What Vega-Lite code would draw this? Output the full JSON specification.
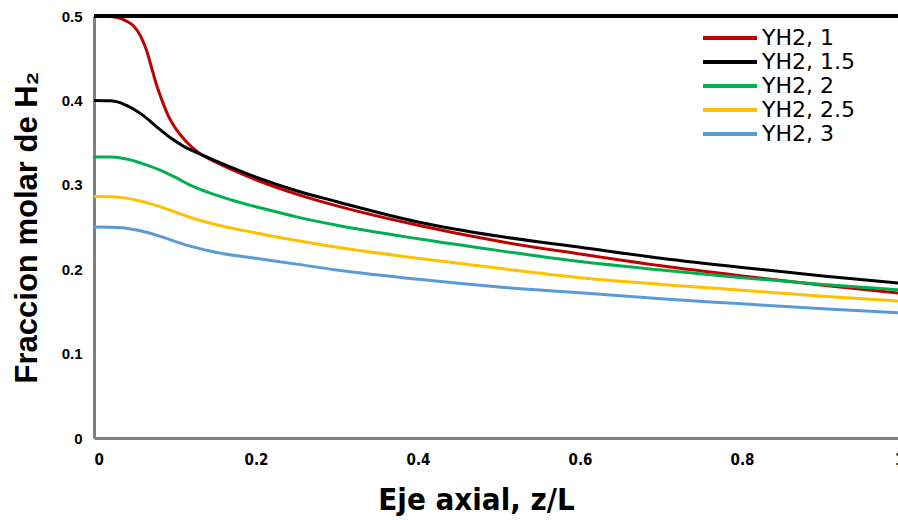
{
  "$schema": "https://vega.github.io/schema/vega-lite/v6.json",
  "autosize": {"type": "none"},
  "padding": {"left": 94, "top": 16, "right": 0, "bottom": 82},
  "width": 810,
  "height": 422,
  "background": "white",
  "config": {"view": {"stroke": null}},
  "datasets": {
    "curves": [
      {"z": 0, "y": 0.5, "s": "YH2, 1"},
      {"z": 0.02, "y": 0.4995, "s": "YH2, 1"},
      {"z": 0.03, "y": 0.498, "s": "YH2, 1"},
      {"z": 0.04, "y": 0.494, "s": "YH2, 1"},
      {"z": 0.048, "y": 0.489, "s": "YH2, 1"},
      {"z": 0.057, "y": 0.477, "s": "YH2, 1"},
      {"z": 0.065, "y": 0.459, "s": "YH2, 1"},
      {"z": 0.071, "y": 0.439, "s": "YH2, 1"},
      {"z": 0.077, "y": 0.419, "s": "YH2, 1"},
      {"z": 0.084, "y": 0.4, "s": "YH2, 1"},
      {"z": 0.092, "y": 0.381, "s": "YH2, 1"},
      {"z": 0.102, "y": 0.365, "s": "YH2, 1"},
      {"z": 0.114, "y": 0.351, "s": "YH2, 1"},
      {"z": 0.13, "y": 0.3375, "s": "YH2, 1"},
      {"z": 0.15, "y": 0.327, "s": "YH2, 1"},
      {"z": 0.2, "y": 0.306, "s": "YH2, 1"},
      {"z": 0.25, "y": 0.289, "s": "YH2, 1"},
      {"z": 0.3, "y": 0.275, "s": "YH2, 1"},
      {"z": 0.4, "y": 0.252, "s": "YH2, 1"},
      {"z": 0.5, "y": 0.233, "s": "YH2, 1"},
      {"z": 0.6, "y": 0.218, "s": "YH2, 1"},
      {"z": 0.7, "y": 0.204, "s": "YH2, 1"},
      {"z": 0.8, "y": 0.192, "s": "YH2, 1"},
      {"z": 0.9, "y": 0.181, "s": "YH2, 1"},
      {"z": 1.0, "y": 0.171, "s": "YH2, 1"},
      {"z": 0, "y": 0.4, "s": "YH2, 1.5"},
      {"z": 0.02, "y": 0.3995, "s": "YH2, 1.5"},
      {"z": 0.03, "y": 0.398, "s": "YH2, 1.5"},
      {"z": 0.04, "y": 0.394, "s": "YH2, 1.5"},
      {"z": 0.05, "y": 0.389, "s": "YH2, 1.5"},
      {"z": 0.061, "y": 0.382, "s": "YH2, 1.5"},
      {"z": 0.077, "y": 0.369, "s": "YH2, 1.5"},
      {"z": 0.094, "y": 0.356, "s": "YH2, 1.5"},
      {"z": 0.11, "y": 0.346, "s": "YH2, 1.5"},
      {"z": 0.127, "y": 0.338, "s": "YH2, 1.5"},
      {"z": 0.151, "y": 0.328, "s": "YH2, 1.5"},
      {"z": 0.2, "y": 0.309, "s": "YH2, 1.5"},
      {"z": 0.25, "y": 0.293, "s": "YH2, 1.5"},
      {"z": 0.3, "y": 0.28, "s": "YH2, 1.5"},
      {"z": 0.4, "y": 0.256, "s": "YH2, 1.5"},
      {"z": 0.5, "y": 0.239, "s": "YH2, 1.5"},
      {"z": 0.6, "y": 0.226, "s": "YH2, 1.5"},
      {"z": 0.7, "y": 0.213, "s": "YH2, 1.5"},
      {"z": 0.8, "y": 0.202, "s": "YH2, 1.5"},
      {"z": 0.9, "y": 0.192, "s": "YH2, 1.5"},
      {"z": 1.0, "y": 0.183, "s": "YH2, 1.5"},
      {"z": 0, "y": 0.333, "s": "YH2, 2"},
      {"z": 0.02, "y": 0.3328, "s": "YH2, 2"},
      {"z": 0.035, "y": 0.3315, "s": "YH2, 2"},
      {"z": 0.045, "y": 0.3295, "s": "YH2, 2"},
      {"z": 0.057, "y": 0.326, "s": "YH2, 2"},
      {"z": 0.08, "y": 0.318, "s": "YH2, 2"},
      {"z": 0.1, "y": 0.309, "s": "YH2, 2"},
      {"z": 0.12, "y": 0.299, "s": "YH2, 2"},
      {"z": 0.15, "y": 0.288, "s": "YH2, 2"},
      {"z": 0.18, "y": 0.279, "s": "YH2, 2"},
      {"z": 0.2, "y": 0.274, "s": "YH2, 2"},
      {"z": 0.25, "y": 0.262, "s": "YH2, 2"},
      {"z": 0.3, "y": 0.252, "s": "YH2, 2"},
      {"z": 0.4, "y": 0.236, "s": "YH2, 2"},
      {"z": 0.5, "y": 0.222, "s": "YH2, 2"},
      {"z": 0.6, "y": 0.209, "s": "YH2, 2"},
      {"z": 0.7, "y": 0.199, "s": "YH2, 2"},
      {"z": 0.8, "y": 0.19, "s": "YH2, 2"},
      {"z": 0.9, "y": 0.182, "s": "YH2, 2"},
      {"z": 1.0, "y": 0.175, "s": "YH2, 2"},
      {"z": 0, "y": 0.286, "s": "YH2, 2.5"},
      {"z": 0.02, "y": 0.2857, "s": "YH2, 2.5"},
      {"z": 0.035, "y": 0.2848, "s": "YH2, 2.5"},
      {"z": 0.045, "y": 0.2833, "s": "YH2, 2.5"},
      {"z": 0.057, "y": 0.2808, "s": "YH2, 2.5"},
      {"z": 0.08, "y": 0.2745, "s": "YH2, 2.5"},
      {"z": 0.1, "y": 0.268, "s": "YH2, 2.5"},
      {"z": 0.12, "y": 0.261, "s": "YH2, 2.5"},
      {"z": 0.15, "y": 0.253, "s": "YH2, 2.5"},
      {"z": 0.2, "y": 0.243, "s": "YH2, 2.5"},
      {"z": 0.25, "y": 0.234, "s": "YH2, 2.5"},
      {"z": 0.3, "y": 0.226, "s": "YH2, 2.5"},
      {"z": 0.4, "y": 0.213, "s": "YH2, 2.5"},
      {"z": 0.5, "y": 0.201, "s": "YH2, 2.5"},
      {"z": 0.6, "y": 0.19, "s": "YH2, 2.5"},
      {"z": 0.7, "y": 0.182, "s": "YH2, 2.5"},
      {"z": 0.8, "y": 0.175, "s": "YH2, 2.5"},
      {"z": 0.9, "y": 0.168, "s": "YH2, 2.5"},
      {"z": 1.0, "y": 0.162, "s": "YH2, 2.5"},
      {"z": 0, "y": 0.25, "s": "YH2, 3"},
      {"z": 0.02, "y": 0.2498, "s": "YH2, 3"},
      {"z": 0.035, "y": 0.249, "s": "YH2, 3"},
      {"z": 0.045, "y": 0.2477, "s": "YH2, 3"},
      {"z": 0.057, "y": 0.2455, "s": "YH2, 3"},
      {"z": 0.08, "y": 0.2395, "s": "YH2, 3"},
      {"z": 0.1, "y": 0.233, "s": "YH2, 3"},
      {"z": 0.12, "y": 0.227, "s": "YH2, 3"},
      {"z": 0.15, "y": 0.22, "s": "YH2, 3"},
      {"z": 0.2, "y": 0.213, "s": "YH2, 3"},
      {"z": 0.25, "y": 0.206, "s": "YH2, 3"},
      {"z": 0.3, "y": 0.199, "s": "YH2, 3"},
      {"z": 0.4, "y": 0.188, "s": "YH2, 3"},
      {"z": 0.5, "y": 0.179, "s": "YH2, 3"},
      {"z": 0.6, "y": 0.172, "s": "YH2, 3"},
      {"z": 0.7, "y": 0.165, "s": "YH2, 3"},
      {"z": 0.8, "y": 0.159, "s": "YH2, 3"},
      {"z": 0.9, "y": 0.153, "s": "YH2, 3"},
      {"z": 1.0, "y": 0.148, "s": "YH2, 3"}
    ],
    "top": [{"y": 0.5}]
  },
  "layer": [
    {
      "data": {"name": "curves"},
      "mark": {"type": "line", "strokeWidth": 3, "interpolate": "monotone"},
      "encoding": {
        "x": {
          "field": "z", "type": "quantitative",
          "scale": {"domain": [0, 1], "nice": false},
          "axis": {
            "title": "Eje axial, z/L",
            "values": [0, 0.2, 0.4, 0.6, 0.8, 1],
            "format": "~g",
            "grid": false, "ticks": false,
            "domainColor": "#7f7f7f", "domainWidth": 3,
            "labelFont": "DejaVu Sans Condensed", "labelFontWeight": "bold",
            "labelFontSize": 15, "labelColor": "#000", "labelPadding": 14,
            "titleFont": "DejaVu Sans Condensed", "titleFontWeight": "bold",
            "titleFontSize": 31, "titleColor": "#000", "titlePadding": 18,
            "titleX": 382, "titleAlign": "center"
          }
        },
        "y": {
          "field": "y", "type": "quantitative",
          "scale": {"domain": [0, 0.5], "nice": false},
          "axis": {
            "title": "Fraccion molar de H₂",
            "values": [0, 0.1, 0.2, 0.3, 0.4, 0.5],
            "format": "~g",
            "grid": false, "ticks": false,
            "domainColor": "#7f7f7f", "domainWidth": 3,
            "labelFont": "Liberation Sans", "labelFontWeight": "bold",
            "labelFontSize": 15, "labelColor": "#000", "labelPadding": 12,
            "titleFont": "Liberation Sans", "titleFontWeight": "bold",
            "titleFontSize": 31, "titleColor": "#000", "titlePadding": 18
          }
        },
        "color": {
          "field": "s", "type": "nominal",
          "scale": {
            "domain": ["YH2, 1", "YH2, 1.5", "YH2, 2", "YH2, 2.5", "YH2, 3"],
            "range": ["#C00000", "#000000", "#00B050", "#FFC000", "#5B9BD5"]
          },
          "legend": {
            "title": null,
            "orient": "none",
            "legendX": 607,
            "legendY": 11,
            "symbolType": "M-1,0H5",
            "symbolSize": 324,
            "symbolStrokeWidth": 4,
            "symbolFillColor": "transparent",
            "labelFont": "DejaVu Sans",
            "labelFontSize": 22,
            "labelColor": "#000",
            "labelOffset": 39,
            "rowPadding": 2,
            "padding": 0
          }
        }
      }
    },
    {
      "data": {"name": "top"},
      "mark": {"type": "rule", "color": "#000", "strokeWidth": 4},
      "encoding": {"y": {"field": "y", "type": "quantitative"}}
    }
  ]
}
